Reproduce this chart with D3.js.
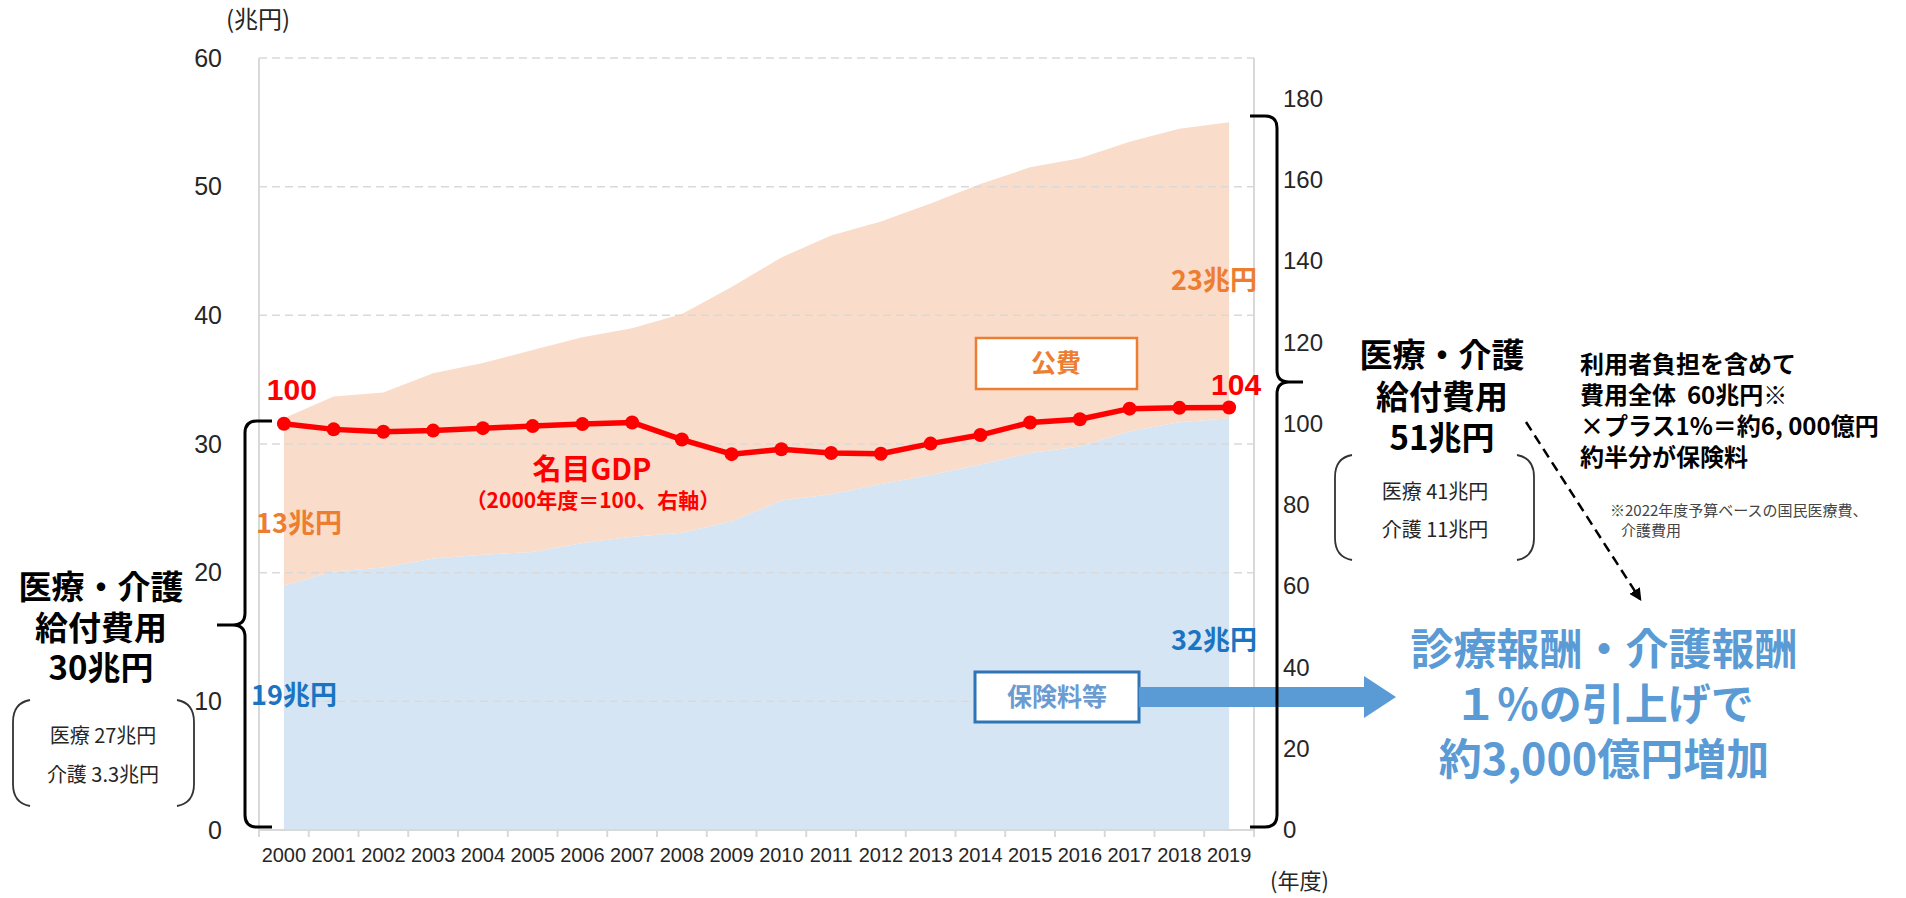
<!DOCTYPE html>
<html lang="ja">
<head>
<meta charset="utf-8">
<title>医療・介護給付費用と名目GDPの推移</title>
<script src="https://cdn.jsdelivr.net/npm/d3@7"></script>
<style>
  html, body { margin: 0; padding: 0; background: #fff; }
  svg { display: block; }
  text { font-family: "Noto Sans CJK JP", "Noto Sans", sans-serif; }
  .num { font-family: "Liberation Sans", Arial, sans-serif; }
</style>
</head>
<body>
<svg id="chart" width="1906" height="898"></svg>
<script>
// 年度
const years = [2000, 2001, 2002, 2003, 2004, 2005, 2006, 2007, 2008, 2009,
               2010, 2011, 2012, 2013, 2014, 2015, 2016, 2017, 2018, 2019];
// 保険料等（兆円）
const hokenryo = [19.0, 20.1, 20.4, 21.1, 21.4, 21.6, 22.3, 22.8, 23.1, 24.0,
                  25.6, 26.1, 26.9, 27.6, 28.4, 29.3, 29.8, 31.0, 31.7, 32.0];
// 公費（兆円）
const kouhi = [13.0, 13.6, 13.6, 14.4, 14.9, 15.7, 16.0, 16.2, 17.0, 18.2,
               18.9, 20.1, 20.4, 21.1, 21.8, 22.2, 22.4, 22.5, 22.8, 23.0];
// 名目GDP（2000年度＝100）
const gdpIndex = [100, 98.6, 98.0, 98.3, 98.9, 99.4, 99.9, 100.3, 96.1, 92.5,
                  93.7, 92.8, 92.6, 95.1, 97.2, 100.3, 101.1, 103.7, 103.9, 104];
// 目盛
const leftTicks = [0, 10, 20, 30, 40, 50, 60];
const rightTicks = [0, 20, 40, 60, 80, 100, 120, 140, 160, 180];

const svg = d3.select("#chart");

const plot = { left: 259, right: 1254, top: 58, bottom: 830 };

const x = d3.scaleBand().domain(years).range([plot.left, plot.right]).padding(0);
const cx = d => x(d) + x.bandwidth() / 2;
const yL = d3.scaleLinear().domain([0, 60]).range([plot.bottom, plot.top]);
const yR = d3.scaleLinear().domain([0, 190]).range([plot.bottom, plot.top]);

const COLORS = {
  kouhiFill: "#f9dcc9",
  hokenFill: "#d6e5f4",
  orange: "#ed7d31",
  blueText: "#1a74c2",
  lightBlue: "#5b9bd5",
  boxBlue: "#2e75b6",
  red: "#ff0000",
  grid: "#d9d9d9",
  axisText: "#262626"
};

// 複数行のテキストを1つの<text>にまとめて描く
function multiline(parent, lines, { x, y, lineHeight, anchor = "start", size, weight = 400, fill = "#000", dx = [] }) {
  const t = parent.append("text")
    .attr("x", x).attr("y", y)
    .attr("text-anchor", anchor)
    .attr("font-size", size)
    .attr("font-weight", weight)
    .attr("fill", fill);
  lines.forEach((line, i) => {
    const s = typeof line === "string" ? { text: line } : line;
    t.append("tspan")
      .attr("x", x + (dx[i] || 0))
      .attr("y", y + i * lineHeight)
      .attr("font-size", s.size || null)
      .text(s.text);
  });
  return t;
}

// 積み上げ面
const table = years.map((yr, i) => ({ year: yr, hoken: hokenryo[i], kouhi: kouhi[i] }));
const stacked = d3.stack().keys(["hoken", "kouhi"])(table);
const area = d3.area()
  .x(d => cx(d.data.year))
  .y0(d => yL(d[0]))
  .y1(d => yL(d[1]));

svg.append("g").selectAll("path")
  .data(stacked)
  .join("path")
  .attr("d", area)
  .attr("fill", d => d.key === "hoken" ? COLORS.hokenFill : COLORS.kouhiFill);

// 補助線（破線）
svg.append("g").selectAll("line")
  .data(leftTicks.filter(v => v > 0))
  .join("line")
  .attr("x1", plot.left).attr("x2", plot.right)
  .attr("y1", d => yL(d)).attr("y2", d => yL(d))
  .attr("stroke", COLORS.grid)
  .attr("stroke-width", 1.5)
  .attr("stroke-dasharray", "8 5");

// 枠線（左右の縦線・横軸）
const frame = svg.append("g").attr("stroke", COLORS.grid).attr("stroke-width", 2);
frame.append("line").attr("x1", plot.left).attr("x2", plot.left).attr("y1", plot.top).attr("y2", plot.bottom);
frame.append("line").attr("x1", plot.right).attr("x2", plot.right).attr("y1", plot.top).attr("y2", plot.bottom);
frame.append("line").attr("x1", plot.left).attr("x2", plot.right).attr("y1", plot.bottom).attr("y2", plot.bottom);
// 横軸の目盛（区切り位置）
frame.selectAll("line.tick")
  .data(years.map(d => x(d)).concat([plot.right]))
  .join("line")
  .attr("class", "tick")
  .attr("x1", d => d).attr("x2", d => d)
  .attr("y1", plot.bottom).attr("y2", plot.bottom + 7);

// 左軸
const axL = svg.append("g")
  .attr("transform", `translate(${plot.left},0)`)
  .call(d3.axisLeft(yL).tickValues(leftTicks).tickSize(0).tickPadding(37).tickFormat(d3.format("d")));
axL.select(".domain").remove();
axL.selectAll("text").attr("class", "num").attr("font-size", 25).attr("fill", COLORS.axisText);

// 右軸
const axR = svg.append("g")
  .attr("transform", `translate(${plot.right},0)`)
  .call(d3.axisRight(yR).tickValues(rightTicks).tickSize(0).tickPadding(29).tickFormat(d3.format("d")));
axR.select(".domain").remove();
axR.selectAll("text").attr("class", "num").attr("font-size", 24).attr("fill", COLORS.axisText);

// 横軸
const axB = svg.append("g")
  .attr("transform", `translate(0,${plot.bottom})`)
  .call(d3.axisBottom(x).tickSize(0).tickPadding(18).tickFormat(d3.format("d")));
axB.select(".domain").remove();
axB.selectAll("text").attr("class", "num").attr("font-size", 20).attr("fill", COLORS.axisText);

// 単位
svg.append("text").attr("x", 226).attr("y", 28).attr("font-size", 24).attr("fill", COLORS.axisText).text("(兆円)");
svg.append("text").attr("x", 1270).attr("y", 889).attr("font-size", 22).attr("fill", COLORS.axisText).text("(年度)");

// 名目GDP（右軸）
const gdpPts = years.map((yr, i) => ({ year: yr, v: gdpIndex[i] }));
svg.append("path")
  .datum(gdpPts)
  .attr("d", d3.line().x(d => cx(d.year)).y(d => yR(d.v)))
  .attr("fill", "none")
  .attr("stroke", COLORS.red)
  .attr("stroke-width", 5.5)
  .attr("stroke-linejoin", "round");
svg.append("g").selectAll("circle")
  .data(gdpPts)
  .join("circle")
  .attr("cx", d => cx(d.year))
  .attr("cy", d => yR(d.v))
  .attr("r", 7)
  .attr("fill", COLORS.red);

// GDPの始点・終点の値
const first = gdpPts[0], last = gdpPts[gdpPts.length - 1];
svg.append("text").attr("x", cx(first.year) + 8).attr("y", yR(first.v) - 24)
  .attr("text-anchor", "middle").attr("font-size", 30).attr("font-weight", 700)
  .attr("fill", COLORS.red).attr("class", "num").text(d3.format("d")(first.v));
svg.append("text").attr("x", cx(last.year) + 7).attr("y", yR(last.v) - 12)
  .attr("text-anchor", "middle").attr("font-size", 30).attr("font-weight", 700)
  .attr("fill", COLORS.red).attr("class", "num").text(d3.format("d")(last.v));

multiline(svg, [{ text: "名目GDP", size: 29 }, { text: "（2000年度＝100、右軸）", size: 21 }],
  { x: 592, y: 480, lineHeight: 28, anchor: "middle", size: 29, weight: 700, fill: COLORS.red, dx: [0, 1] });

// 面の値ラベル
const fmtTrillion = v => `${Math.round(v)}兆円`;
const n = years.length - 1;
svg.append("text").attr("x", 299).attr("y", 533).attr("text-anchor", "middle")
  .attr("font-size", 27).attr("font-weight", 700).attr("fill", COLORS.orange).text(fmtTrillion(kouhi[0]));
svg.append("text").attr("x", 294).attr("y", 705).attr("text-anchor", "middle")
  .attr("font-size", 27).attr("font-weight", 700).attr("fill", COLORS.blueText).text(fmtTrillion(hokenryo[0]));
svg.append("text").attr("x", 1214).attr("y", 290).attr("text-anchor", "middle")
  .attr("font-size", 27).attr("font-weight", 700).attr("fill", COLORS.orange).text(fmtTrillion(kouhi[n]));
svg.append("text").attr("x", 1214).attr("y", 650).attr("text-anchor", "middle")
  .attr("font-size", 27).attr("font-weight", 700).attr("fill", COLORS.blueText).text(fmtTrillion(hokenryo[n]));

// 凡例ボックス
svg.append("rect").attr("x", 976).attr("y", 338).attr("width", 161).attr("height", 51)
  .attr("fill", "#fff").attr("stroke", COLORS.orange).attr("stroke-width", 2.5);
svg.append("text").attr("x", 1056).attr("y", 372).attr("text-anchor", "middle")
  .attr("font-size", 25).attr("font-weight", 700).attr("fill", COLORS.orange).text("公費");

svg.append("rect").attr("x", 975).attr("y", 672).attr("width", 164).attr("height", 50)
  .attr("fill", "#fff").attr("stroke", COLORS.boxBlue).attr("stroke-width", 3);
svg.append("text").attr("x", 1057).attr("y", 706).attr("text-anchor", "middle")
  .attr("font-size", 25).attr("font-weight", 700).attr("fill", "#6a9bd1").text("保険料等");

// 太い矢印
svg.append("path")
  .attr("d", "M1139,687 H1364 V676 L1396,697 L1364,718 V707 H1139 Z")
  .attr("fill", COLORS.lightBlue);

// 中括弧
const brace = svg.append("g").attr("fill", "none").attr("stroke", "#000").attr("stroke-width", 3);
brace.append("path").attr("d",
  "M272,421 H257 Q245,421 245,433 V613 Q245,625 233,625 H217 M233,625 Q245,625 245,637 V815 Q245,827 257,827 H272");
brace.append("path").attr("d",
  "M1250,116 H1265 Q1277,116 1277,128 V370 Q1277,382 1289,382 H1303 M1289,382 Q1277,382 1277,394 V815 Q1277,827 1265,827 H1250");

// 丸括弧
const paren = svg.append("g").attr("fill", "none").attr("stroke", "#333").attr("stroke-width", 1.8);
paren.append("path").attr("d", "M30,700 Q13,703 13,722 V784 Q13,803 30,806");
paren.append("path").attr("d", "M177,700 Q194,703 194,722 V784 Q194,803 177,806");
paren.append("path").attr("d", "M1352,455 Q1335,458 1335,477 V538 Q1335,557 1352,560");
paren.append("path").attr("d", "M1517,455 Q1534,458 1534,477 V538 Q1534,557 1517,560");

// 左側の注記
multiline(svg, ["医療・介護", "給付費用", "30兆円"],
  { x: 101, y: 599, lineHeight: 40.5, anchor: "middle", size: 33, weight: 700 });
multiline(svg, ["医療 27兆円", "介護 3.3兆円"],
  { x: 103, y: 743, lineHeight: 39, anchor: "middle", size: 20, fill: "#262626" });

// 右側の注記
multiline(svg, ["医療・介護", "給付費用", "51兆円"],
  { x: 1442, y: 367, lineHeight: 41.5, anchor: "middle", size: 33, weight: 700 });
multiline(svg, ["医療 41兆円", "介護 11兆円"],
  { x: 1435, y: 499, lineHeight: 38, anchor: "middle", size: 20, fill: "#262626" });

multiline(svg, ["利用者負担を含めて", "費用全体\u00a0\u00a060兆円※", "×プラス1%＝約6,\u00a0000億円", "約半分が保険料"],
  { x: 1580, y: 373, lineHeight: 31, size: 24, weight: 700 });

multiline(svg, ["※2022年度予算ベースの国民医療費、", "介護費用"],
  { x: 1610, y: 516, lineHeight: 20, size: 15, fill: "#444", dx: [0, 11] });

// 破線の矢印
const defs = svg.append("defs");
defs.append("marker").attr("id", "arrowHead")
  .attr("viewBox", "0 0 10 10").attr("refX", 8).attr("refY", 5)
  .attr("markerWidth", 5).attr("markerHeight", 5).attr("orient", "auto")
  .append("path").attr("d", "M0,0 L10,5 L0,10 Z").attr("fill", "#000");
svg.append("line")
  .attr("x1", 1526).attr("y1", 422).attr("x2", 1640).attr("y2", 599)
  .attr("stroke", "#000").attr("stroke-width", 2.5).attr("stroke-dasharray", "10 6")
  .attr("marker-end", "url(#arrowHead)");

// 報酬改定の説明
multiline(svg, ["診療報酬・介護報酬", "１%の引上げで", "約3,000億円増加"],
  { x: 1604, y: 665, lineHeight: 55, anchor: "middle", size: 43, weight: 700, fill: COLORS.lightBlue });
</script>
</body>
</html>
